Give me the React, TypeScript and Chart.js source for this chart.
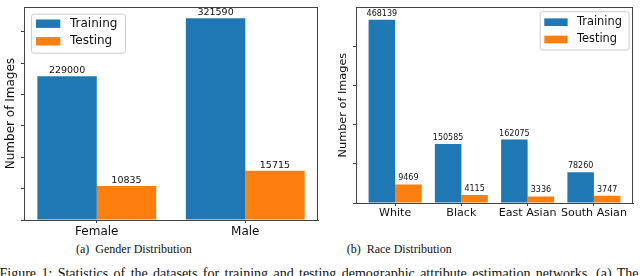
import React, { useEffect, useRef } from 'react';
import { Chart, registerables } from 'chart.js';

Chart.register(...registerables);

// ---------- data ----------
const seriesNames = ['Training', 'Testing'];
const genderCategories = ['Female', 'Male'];
const genderTraining = [229000, 321590];
const genderTesting = [10835, 15715];
const genderYTicks = [0, 50000, 100000, 150000, 200000, 250000, 300000];

const raceCategories = ['White', 'Black', 'East Asian', 'South Asian'];
const raceTraining = [468139, 150585, 162075, 78260];
const raceTesting = [9469, 4115, 3336, 3747];
const raceYTicks = [0, 100000, 200000, 300000, 400000];

// In the original figure the testing bars are drawn magnified 5x (labels show true counts)
const TESTING_BAR_SCALE = 5;

const BLUE = '#1f77b4';
const ORANGE = '#ff7f0e';
const AXIS = '#444444';
const FONT = '"DejaVu Sans", sans-serif';

type LegendSpec = {
  anchor: 'left' | 'right';
  dx: number; dy: number; w: number; h: number;
  patchX: number; patchW: number; patchH: number;
  rowY: number[]; textX: number; font: number;
};

type PanelSpec = {
  categories: string[];
  training: number[];
  testing: number[];
  yTicks: number[];
  yMax: number;
  padTop: number; padRight: number;
  yAxisWidth: number; xAxisHeight: number;
  titleFont: number; titlePad: number;
  tickFont: number; tickPad: number;
  valueFont: number; valueGap: number;
  legend: LegendSpec;
};

function makeConfig(p: PanelSpec): any {
  const n = p.categories.length;
  const margin = 0.05 * (n - 0.2);
  const frame = {
    id: 'frame',
    afterDraw(chart: any) {
      const { ctx, chartArea: a } = chart;
      ctx.save();
      ctx.strokeStyle = AXIS;
      ctx.lineWidth = 1;
      ctx.beginPath();
      ctx.moveTo(a.left, Math.round(a.top) + 0.5);
      ctx.lineTo(a.right, Math.round(a.top) + 0.5);
      ctx.moveTo(Math.round(a.right) - 0.5, a.top);
      ctx.lineTo(Math.round(a.right) - 0.5, a.bottom);
      ctx.stroke();
      ctx.restore();
    },
  };
  const values = {
    id: 'values',
    afterDatasetsDraw(chart: any) {
      const { ctx } = chart;
      ctx.save();
      ctx.fillStyle = '#111';
      ctx.font = `${p.valueFont}px ${FONT}`;
      ctx.textAlign = 'center';
      ctx.textBaseline = 'alphabetic';
      [p.training, p.testing].forEach((arr, di) => {
        const meta = chart.getDatasetMeta(di);
        meta.data.forEach((el: any, i: number) => {
          ctx.fillText(String(arr[i]), el.x, el.y - p.valueGap);
        });
      });
      ctx.restore();
    },
  };
  const legend = {
    id: 'innerLegend',
    afterDraw(chart: any) {
      const { ctx, chartArea: a } = chart;
      const L = p.legend;
      const bx = L.anchor === 'left' ? a.left + L.dx : a.right - L.dx - L.w;
      const by = a.top + L.dy;
      ctx.save();
      ctx.beginPath();
      (ctx as any).roundRect(bx + 0.5, by + 0.5, L.w, L.h, 2.5);
      ctx.fillStyle = 'rgba(255,255,255,0.8)';
      ctx.fill();
      ctx.strokeStyle = '#cccccc';
      ctx.lineWidth = 1;
      ctx.stroke();
      const colors = [BLUE, ORANGE];
      ctx.font = `${L.font}px ${FONT}`;
      ctx.textAlign = 'left';
      ctx.textBaseline = 'middle';
      seriesNames.forEach((name, i) => {
        const cy = by + L.rowY[i];
        ctx.fillStyle = colors[i];
        ctx.fillRect(bx + L.patchX, cy - L.patchH / 2, L.patchW, L.patchH);
        ctx.fillStyle = '#111';
        ctx.fillText(name, bx + L.textX, cy);
      });
      ctx.restore();
    },
  };
  return {
    type: 'bar',
    data: {
      datasets: [
        {
          label: seriesNames[0],
          data: p.training.map((v, i) => ({ x: i, y: v })),
          backgroundColor: BLUE,
          categoryPercentage: 0.8,
          barPercentage: 1.0,
          borderWidth: 0,
        },
        {
          label: seriesNames[1],
          data: p.testing.map((v, i) => ({ x: i, y: v * TESTING_BAR_SCALE })),
          backgroundColor: ORANGE,
          categoryPercentage: 0.8,
          barPercentage: 1.0,
          borderWidth: 0,
        },
      ],
    },
    options: {
      responsive: false,
      maintainAspectRatio: false,
      devicePixelRatio: 1,
      animation: false,
      events: [],
      layout: { padding: { top: p.padTop, right: p.padRight, left: 0, bottom: 0 } },
      plugins: { legend: { display: false }, tooltip: { enabled: false }, title: { display: false } },
      scales: {
        x: {
          type: 'linear',
          offset: false,
          min: -0.4 - margin,
          max: n - 1 + 0.4 + margin,
          afterBuildTicks: (s: any) => {
            s.ticks = p.categories.map((_, i) => ({ value: i }));
          },
          afterFit: (s: any) => {
            s.height = p.xAxisHeight;
          },
          grid: { display: true, drawOnChartArea: false, offset: false, tickLength: 3, color: AXIS },
          border: { display: true, color: AXIS, width: 1 },
          ticks: {
            autoSkip: false,
            maxRotation: 0,
            padding: p.tickPad,
            color: '#111',
            font: { family: FONT, size: p.tickFont },
            callback: (v: any) => p.categories[Math.round(Number(v))] ?? '',
          },
        },
        y: {
          type: 'linear',
          min: 0,
          max: p.yMax,
          afterBuildTicks: (s: any) => {
            s.ticks = p.yTicks.map((v) => ({ value: v }));
          },
          afterFit: (s: any) => {
            s.width = p.yAxisWidth;
          },
          grid: { display: true, drawOnChartArea: false, tickLength: 3, color: AXIS },
          border: { display: true, color: AXIS, width: 1 },
          ticks: { display: true, padding: 0, callback: () => '' },
          title: {
            display: true,
            text: 'Number of Images',
            color: '#111',
            font: { family: FONT, size: p.titleFont },
            padding: { top: p.titlePad, bottom: 0 },
          },
        },
      },
    },
    plugins: [frame, values, legend],
  };
}

const genderSpec: PanelSpec = {
  categories: genderCategories,
  training: genderTraining,
  testing: genderTesting,
  yTicks: genderYTicks,
  yMax: 339000,
  padTop: 5,
  padRight: 2,
  yAxisWidth: 24,
  xAxisHeight: 20,
  titleFont: 12,
  titlePad: 3.8,
  tickFont: 12,
  tickPad: 1.4,
  valueFont: 9.5,
  valueGap: 3,
  legend: {
    anchor: 'left', dx: 7, dy: 6.5, w: 94, h: 39,
    patchX: 5, patchW: 24.3, patchH: 8.4, rowY: [10, 27.6], textX: 39, font: 12,
  },
};

const raceSpec: PanelSpec = {
  categories: raceCategories,
  training: raceTraining,
  testing: raceTesting,
  yTicks: raceYTicks,
  yMax: 500000,
  padTop: 1,
  padRight: 7,
  yAxisWidth: 36,
  xAxisHeight: 37,
  titleFont: 11.3,
  titlePad: 16.5,
  tickFont: 11.1,
  tickPad: 0.8,
  valueFont: 8,
  valueGap: 4,
  legend: {
    anchor: 'right', dx: 4.4, dy: 4, w: 89, h: 38.3,
    patchX: 4.7, patchW: 23.3, patchH: 7.7, rowY: [11, 28.3], textX: 37.4, font: 11.4,
  },
};

function Panel({ spec, left }: { spec: PanelSpec; left: number }) {
  const ref = useRef<HTMLCanvasElement>(null);
  useEffect(() => {
    if (!ref.current) return;
    const chart = new Chart(ref.current, makeConfig(spec));
    return () => chart.destroy();
  }, [spec]);
  return (
    <canvas
      ref={ref}
      width={320}
      height={240}
      style={{ position: 'absolute', left, top: 0, width: 320, height: 240, display: 'block' }}
    />
  );
}

const serif = '"Liberation Serif", "Times New Roman", serif';

export default function App() {
  return (
    <div
      style={{
        position: 'absolute',
        left: 0,
        top: 0,
        width: 640,
        height: 276,
        overflow: 'hidden',
        background: '#fff',
      }}
    >
      <Panel spec={genderSpec} left={0} />
      <Panel spec={raceSpec} left={320} />
      <div
        style={{
          position: 'absolute', left: 76, top: 243.2, fontFamily: serif, fontSize: 12,
          lineHeight: '12px', whiteSpace: 'pre', color: '#111',
        }}
      >
        {'(a)  Gender Distribution'}
      </div>
      <div
        style={{
          position: 'absolute', left: 346.7, top: 243.2, fontFamily: serif, fontSize: 12,
          lineHeight: '12px', whiteSpace: 'pre', color: '#111',
        }}
      >
        {'(b)  Race Distribution'}
      </div>
      <div
        style={{
          position: 'absolute', left: -0.5, top: 267.4, width: 639, fontFamily: serif, fontSize: 14,
          lineHeight: '14px', whiteSpace: 'nowrap', color: '#111', textAlign: 'justify',
          textAlignLast: 'justify' as any,
        }}
      >
        Figure 1: Statistics of the datasets for training and testing demographic attribute estimation networks. (a) The
      </div>
    </div>
  );
}
